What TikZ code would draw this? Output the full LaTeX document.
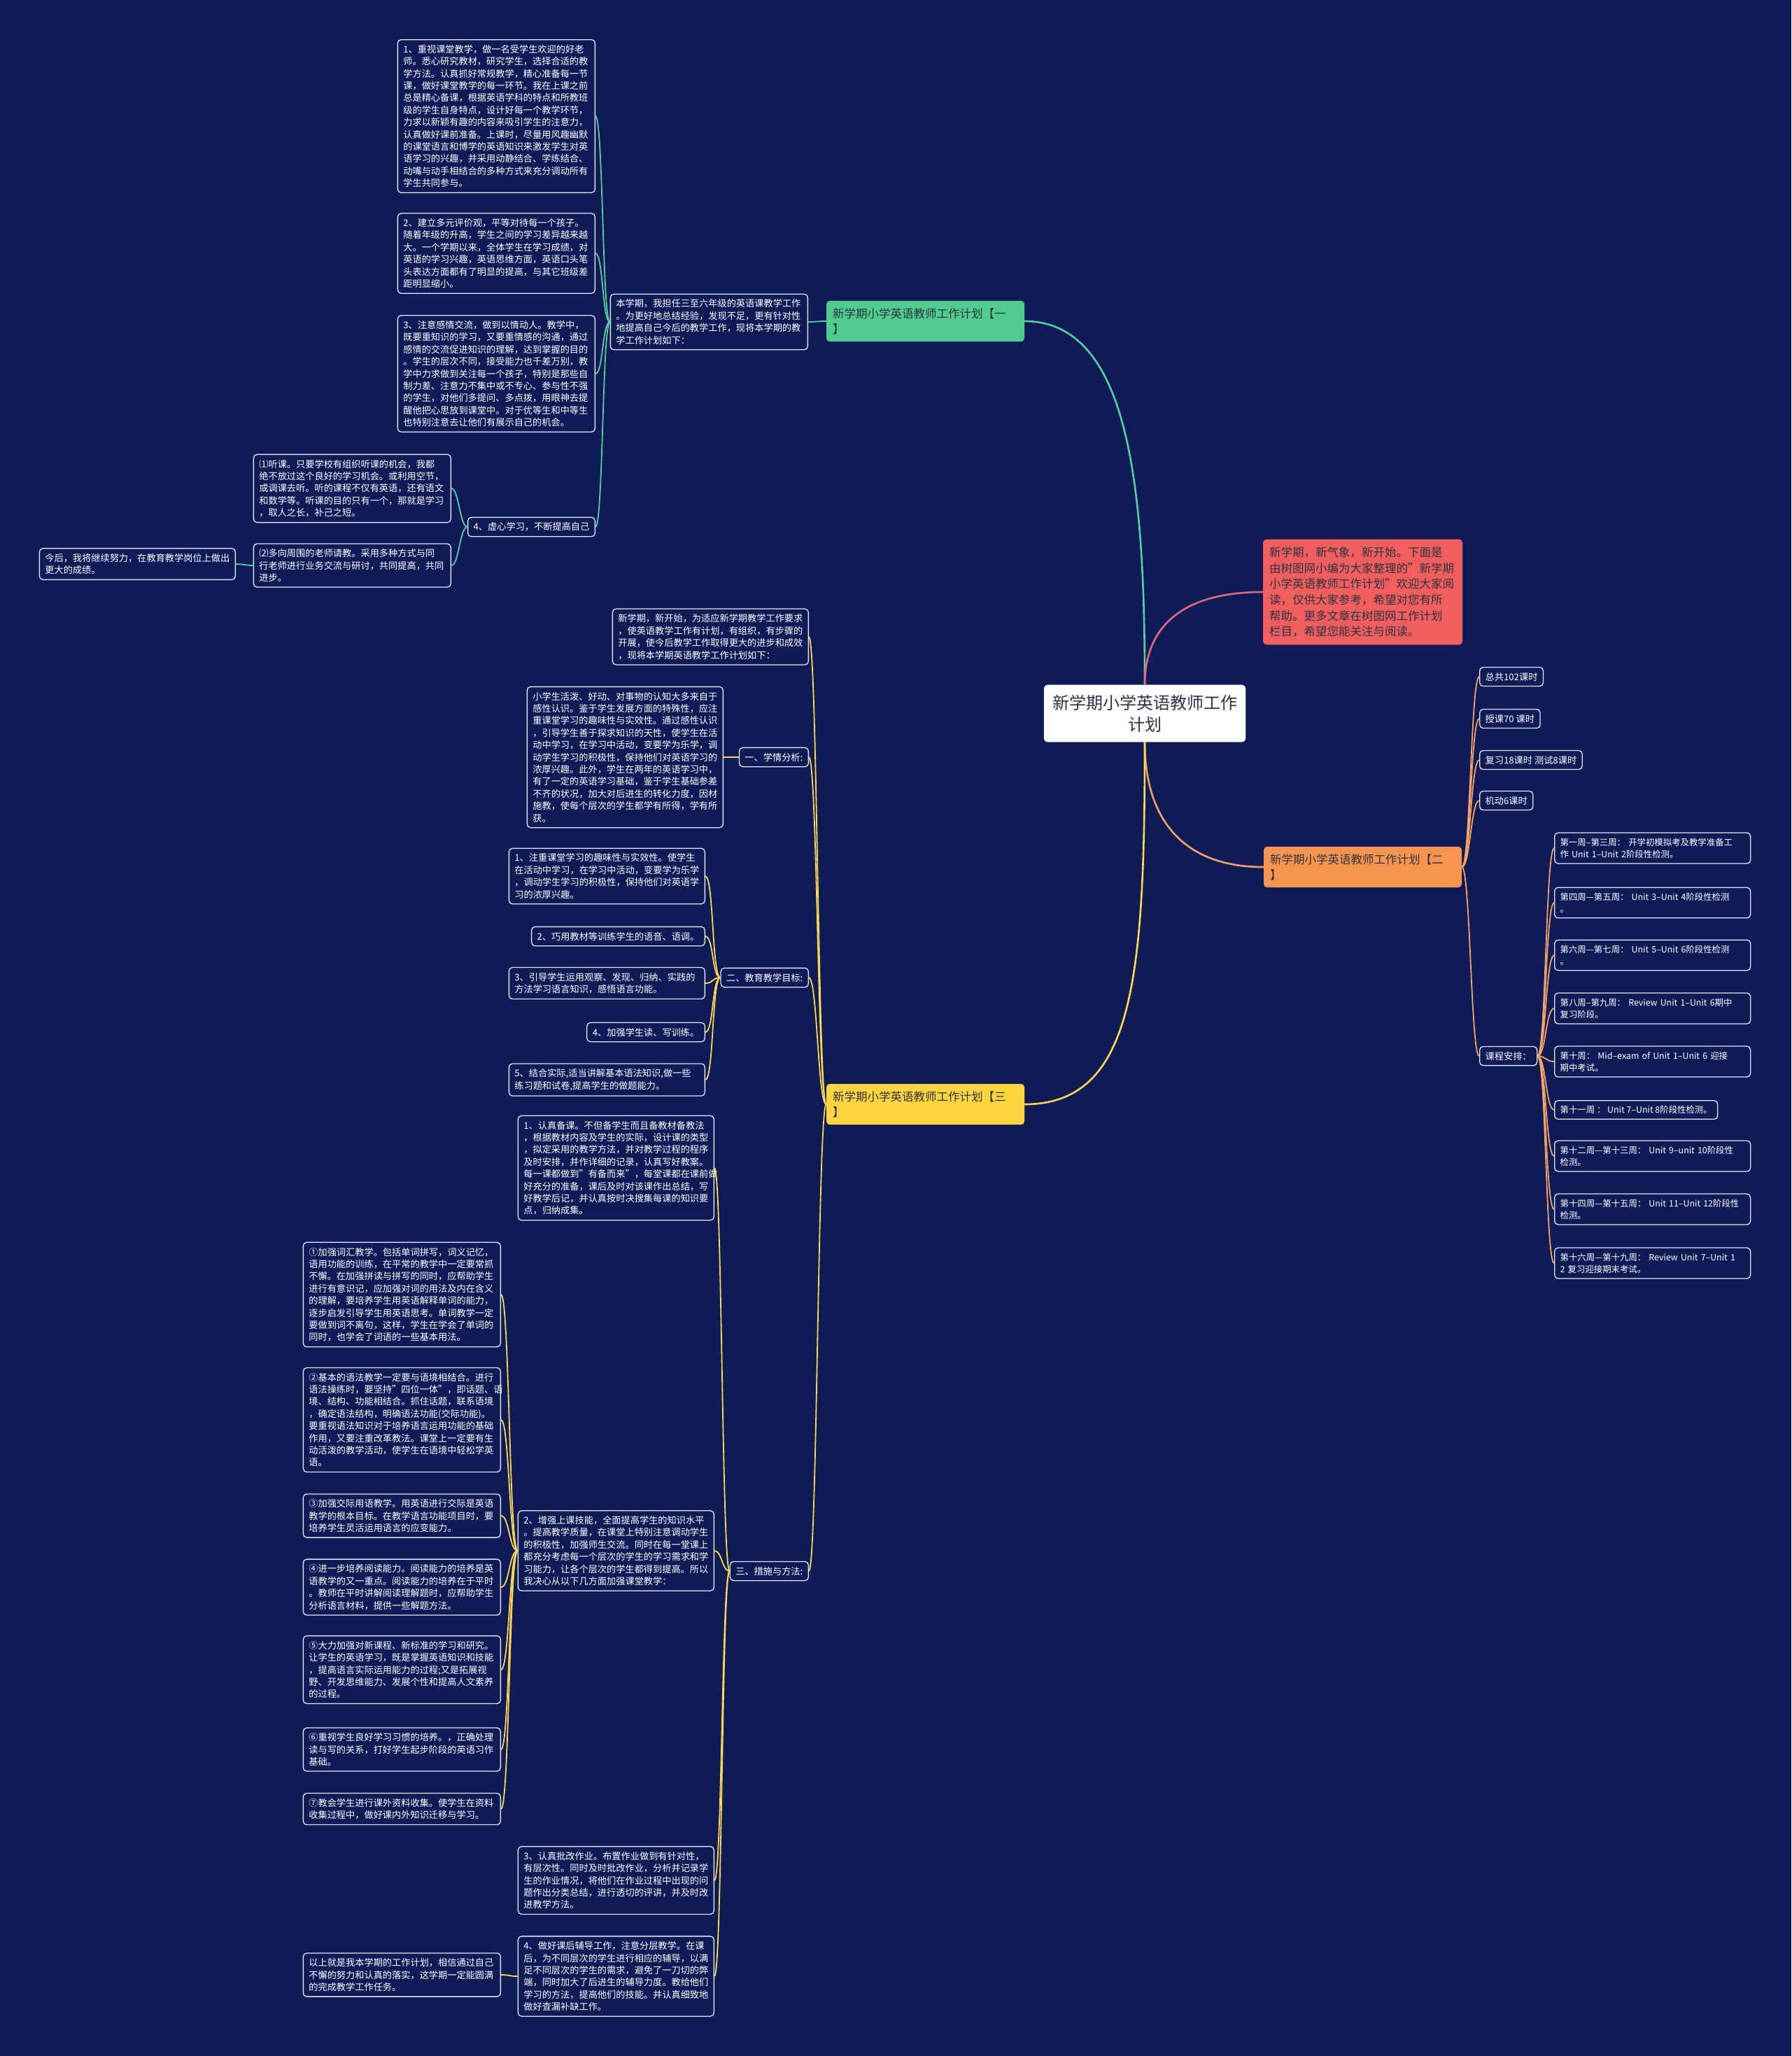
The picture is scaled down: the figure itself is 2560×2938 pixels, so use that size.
\documentclass[tikz,border=0pt]{standalone}
\usepackage{fontspec}
\setmainfont{Noto Sans CJK SC}
\definecolor{bg}{HTML}{0F1B57}
\definecolor{leafline}{HTML}{E2E6F0}
\definecolor{cgreen}{HTML}{4FCB8D}
\definecolor{cred}{HTML}{F25E5E}
\definecolor{corange}{HTML}{F7954E}
\definecolor{cyellow}{HTML}{FFD43E}
\definecolor{lgreen}{HTML}{55CF9E}
\definecolor{lred}{HTML}{E3687A}
\definecolor{lorange}{HTML}{F5A266}
\definecolor{lyellow}{HTML}{FFD84D}
\definecolor{hdrtext}{HTML}{2B3446}
\newcommand{\linkL}[4]{\draw[#1] (#2.west) .. controls ([xshift=-#4pt]#2.west) and ([xshift=#4pt]#3.east) .. (#3.east);}
\newcommand{\linkR}[4]{\draw[#1] (#2.east) .. controls ([xshift=#4pt]#2.east) and ([xshift=-#4pt]#3.west) .. (#3.west);}
\begin{document}
\begin{tikzpicture}[x=1pt,y=1pt,
  leaf/.style={draw=leafline, fill=bg, rounded corners=5pt, line width=1.3pt, text=white,
    font=\fontsize{13.2}{17.4}\selectfont, align=left, inner xsep=8pt, inner ysep=7.5pt},
  week/.style={leaf, font=\fontsize{12.4}{17.4}\selectfont},
  hdr/.style={rounded corners=5pt, font=\fontsize{16.5}{22}\selectfont, align=left, text=hdrtext,
    inner xsep=9pt, inner ysep=10.5pt, text width=265pt},
  ctrbox/.style={rounded corners=5pt, fill=white, draw=white, text=hdrtext, font=\fontsize{24}{31}\selectfont,
    align=center, text width=264pt, inner xsep=12pt, inner ysep=14pt},
  gmain/.style={draw=lgreen, line width=2.6pt},
  rmain/.style={draw=lred, line width=2.6pt},
  omain/.style={draw=lorange, line width=2.6pt},
  ymain/.style={draw=lyellow, line width=2.6pt},
  gl/.style={draw=lgreen, line width=1.8pt},
  ol/.style={draw=lorange, line width=1.8pt},
  yl/.style={draw=lyellow, line width=1.8pt},
]
\fill[bg] (0,0) rectangle (2560,-2938);
\useasboundingbox (0,0) rectangle (2560,-2938);

% center and headers
\node[ctrbox] (ctr) at (1636,-1019.5) {新学期小学英语教师工作\\计划};
\node[hdr, fill=cgreen] (gh) at (1322.5,-459) {新学期小学英语教师工作计划【一\\】};
\node[hdr, fill=cyellow] (yh) at (1322.5,-1578) {新学期小学英语教师工作计划【三\\】};
\node[hdr, fill=corange] (oh) at (1947.5,-1239) {新学期小学英语教师工作计划【二\\】};
\node[hdr, fill=cred, text width=267pt, inner ysep=11pt, font=\fontsize{16.5}{22.6}\selectfont] (rd) at (1947.5,-846) {新学期，新气象，新开始。下面是\\由树图网小编为大家整理的"新学期\\小学英语教师工作计划"欢迎大家阅\\读，仅供大家参考，希望对您有所\\帮助。更多文章在树图网工作计划\\栏目，希望您能关注与阅读。};

% green branch
\node[leaf, text width=266pt, anchor=east] (bx) at (1155,-460) {本学期，我担任三至六年级的英语课教学工作\\。为更好地总结经验，发现不足，更有针对性\\地提高自己今后的教学工作，现将本学期的教\\学工作计划如下：};
\node[leaf, text width=266pt, anchor=east] (b1) at (851,-166) {1、重视课堂教学，做一名受学生欢迎的好老\\师。悉心研究教材，研究学生，选择合适的教\\学方法。认真抓好常规教学，精心准备每一节\\课，做好课堂教学的每一环节。我在上课之前\\总是精心备课，根据英语学科的特点和所教班\\级的学生自身特点，设计好每一个教学环节，\\力求以新颖有趣的内容来吸引学生的注意力，\\认真做好课前准备。上课时，尽量用风趣幽默\\的课堂语言和博学的英语知识来激发学生对英\\语学习的兴趣，并采用动静结合、学练结合、\\动嘴与动手相结合的多种方式来充分调动所有\\学生共同参与。};
\node[leaf, text width=266pt, anchor=east] (b2) at (851,-362) {2、建立多元评价观，平等对待每一个孩子。\\随着年级的升高，学生之间的学习差异越来越\\大。一个学期以来，全体学生在学习成绩，对\\英语的学习兴趣，英语思维方面，英语口头笔\\头表达方面都有了明显的提高，与其它班级差\\距明显缩小。};
\node[leaf, text width=266pt, anchor=east] (b3) at (851,-534) {3、注意感情交流，做到以情动人。教学中，\\既要重知识的学习，又要重情感的沟通，通过\\感情的交流促进知识的理解，达到掌握的目的\\。学生的层次不同，接受能力也千差万别，教\\学中力求做到关注每一个孩子，特别是那些自\\制力差、注意力不集中或不专心、参与性不强\\的学生，对他们多提问、多点拨，用眼神去提\\醒他把心思放到课堂中。对于优等生和中等生\\也特别注意去让他们有展示自己的机会。};
\node[leaf, anchor=east] (b4) at (851,-753) {4、虚心学习，不断提高自己};
\node[leaf, text width=266pt, anchor=east] (p1) at (645,-698) {⑴听课。只要学校有组织听课的机会，我都\\绝不放过这个良好的学习机会。或利用空节，\\或调课去听。听的课程不仅有英语，还有语文\\和数学等。听课的目的只有一个，那就是学习\\，取人之长，补己之短。};
\node[leaf, text width=266pt, anchor=east] (p2) at (645,-808) {⑵多向周围的老师请教。采用多种方式与同\\行老师进行业务交流与研讨，共同提高，共同\\进步。};
\node[leaf, text width=264pt, anchor=east] (jh) at (337,-806) {今后，我将继续努力，在教育教学岗位上做出\\更大的成绩。};

% yellow branch
\node[leaf, text width=264pt, anchor=east] (y0) at (1156,-910) {新学期，新开始，为适应新学期教学工作要求\\，使英语教学工作有计划，有组织，有步骤的\\开展，使今后教学工作取得更大的进步和成效\\，现将本学期英语教学工作计划如下：};
\node[leaf, anchor=east] (s1) at (1156,-1082) {一、学情分析:};
\node[leaf, text width=264pt, anchor=east] (s1a) at (1034,-1082) {小学生活泼、好动、对事物的认知大多来自于\\感性认识。鉴于学生发展方面的特殊性，应注\\重课堂学习的趣味性与实效性。通过感性认识\\，引导学生善于探求知识的天性，使学生在活\\动中学习，在学习中活动，变要学为乐学，调\\动学生学习的积极性，保持他们对英语学习的\\浓厚兴趣。此外，学生在两年的英语学习中，\\有了一定的英语学习基础，鉴于学生基础参差\\不齐的状况，加大对后进生的转化力度，因材\\施教，使每个层次的学生都学有所得，学有所\\获。};
\node[leaf, anchor=east] (s2) at (1156,-1397) {二、教育教学目标:};
\node[leaf, text width=264pt, anchor=east] (g1) at (1008,-1252) {1、注重课堂学习的趣味性与实效性。使学生\\在活动中学习，在学习中活动，变要学为乐学\\，调动学生学习的积极性，保持他们对英语学\\习的浓厚兴趣。};
\node[leaf, anchor=east] (g2) at (1008,-1338) {2、巧用教材等训练学生的语音、语调。};
\node[leaf, text width=264pt, anchor=east] (g3) at (1008,-1405) {3、引导学生运用观察、发现、归纳、实践的\\方法学习语言知识，感悟语言功能。};
\node[leaf, anchor=east] (g4) at (1008,-1475) {4、加强学生读、写训练。};
\node[leaf, text width=264pt, anchor=east] (g5) at (1008,-1543) {5、结合实际,适当讲解基本语法知识,做一些\\练习题和试卷,提高学生的做题能力。};
\node[leaf, anchor=east] (s3) at (1156,-2245) {三、措施与方法:};
\node[leaf, text width=264pt, anchor=east] (m1) at (1021,-1669) {1、认真备课。不但备学生而且备教材备教法\\，根据教材内容及学生的实际，设计课的类型\\，拟定采用的教学方法，并对教学过程的程序\\及时安排，并作详细的记录，认真写好教案。\\每一课都做到"有备而来"，每堂课都在课前做\\好充分的准备，课后及时对该课作出总结，写\\好教学后记，并认真按时决搜集每课的知识要\\点，归纳成集。};
\node[leaf, text width=264pt, anchor=east] (m2) at (1021,-2216) {2、增强上课技能，全面提高学生的知识水平\\。提高教学质量，在课堂上特别注意调动学生\\的积极性，加强师生交流。同时在每一堂课上\\都充分考虑每一个层次的学生的学习需求和学\\习能力，让各个层次的学生都得到提高。所以\\我决心从以下几方面加强课堂教学：};
\node[leaf, text width=266pt, anchor=east] (c1) at (716,-1850) {①加强词汇教学。包括单词拼写，词义记忆，\\语用功能的训练，在平常的教学中一定要常抓\\不懈。在加强拼读与拼写的同时，应帮助学生\\进行有意识记，应加强对词的用法及内在含义\\的理解，要培养学生用英语解释单词的能力，\\逐步启发引导学生用英语思考。单词教学一定\\要做到词不离句，这样，学生在学会了单词的\\同时，也学会了词语的一些基本用法。};
\node[leaf, text width=266pt, anchor=east] (c2) at (716,-2029) {②基本的语法教学一定要与语境相结合。进行\\语法操练时，要坚持"四位一体"，即话题、语\\境、结构、功能相结合。抓住话题，联系语境\\，确定语法结构，明确语法功能(交际功能)。\\要重视语法知识对于培养语言运用功能的基础\\作用，又要注重改革教法。课堂上一定要有生\\动活泼的教学活动，使学生在语境中轻松学英\\语。};
\node[leaf, text width=266pt, anchor=east] (c3) at (716,-2166) {③加强交际用语教学。用英语进行交际是英语\\教学的根本目标。在教学语言功能项目时，要\\培养学生灵活运用语言的应变能力。};
\node[leaf, text width=266pt, anchor=east] (c4) at (716,-2268) {④进一步培养阅读能力。阅读能力的培养是英\\语教学的又一重点。阅读能力的培养在于平时\\。教师在平时讲解阅读理解题时，应帮助学生\\分析语言材料，提供一些解题方法。};
\node[leaf, text width=266pt, anchor=east] (c5) at (716,-2386) {⑤大力加强对新课程、新标准的学习和研究。\\让学生的英语学习，既是掌握英语知识和技能\\，提高语言实际运用能力的过程;又是拓展视\\野、开发思维能力、发展个性和提高人文素养\\的过程。};
\node[leaf, text width=266pt, anchor=east] (c6) at (716,-2500) {⑥重视学生良好学习习惯的培养。，正确处理\\读与写的关系，打好学生起步阶段的英语习作\\基础。};
\node[leaf, text width=266pt, anchor=east] (c7) at (716,-2585) {⑦教会学生进行课外资料收集。使学生在资料\\收集过程中，做好课内外知识迁移与学习。};
\node[leaf, text width=264pt, anchor=east] (m3) at (1021,-2687) {3、认真批改作业。布置作业做到有针对性，\\有层次性。同时及时批改作业，分析并记录学\\生的作业情况，将他们在作业过程中出现的问\\题作出分类总结，进行透切的评讲，并及时改\\进教学方法。};
\node[leaf, text width=264pt, anchor=east] (m4) at (1021,-2824) {4、做好课后辅导工作，注意分层教学。在课\\后，为不同层次的学生进行相应的辅导，以满\\足不同层次的学生的需求，避免了一刀切的弊\\端，同时加大了后进生的辅导力度。教给他们\\学习的方法，提高他们的技能。并认真细致地\\做好查漏补缺工作。};
\node[leaf, text width=266pt, anchor=east] (fin) at (716,-2822) {以上就是我本学期的工作计划，相信通过自己\\不懈的努力和认真的落实，这学期一定能圆满\\的完成教学工作任务。};

% orange branch
\node[leaf, anchor=west] (r1) at (2114,-967) {总共102课时};
\node[leaf, anchor=west] (r2) at (2114,-1027) {授课70 课时};
\node[leaf, anchor=west] (r3) at (2114,-1086) {复习18课时 测试8课时};
\node[leaf, anchor=west] (r4) at (2114,-1144) {机动6课时};
\node[leaf, anchor=west] (r5) at (2114,-1509) {课程安排：};
\node[week, text width=264pt, anchor=west] (w1) at (2221,-1212) {\mbox{第一周–第三周： 开学初模拟考及教学准备工}\\作 Unit 1–Unit 2阶段性检测。};
\node[week, text width=264pt, anchor=west] (w2) at (2221,-1290) {\mbox{第四周—第五周： Unit 3–Unit 4阶段性检测}\\。};
\node[week, text width=264pt, anchor=west] (w3) at (2221,-1365) {\mbox{第六周—第七周： Unit 5–Unit 6阶段性检测}\\。};
\node[week, text width=264pt, anchor=west] (w4) at (2221,-1441) {\mbox{第八周–第九周： Review Unit 1–Unit 6期中}\\复习阶段。};
\node[week, text width=264pt, anchor=west] (w5) at (2221,-1517) {\mbox{第十周：  Mid–exam of Unit 1–Unit 6 迎接}\\期中考试。};
\node[week, anchor=west] (w6) at (2221,-1586) {第十一周 ： Unit 7–Unit 8阶段性检测。};
\node[week, text width=264pt, anchor=west] (w7) at (2221,-1652) {\mbox{第十二周—第十三周： Unit 9–unit 10阶段性}\\检测。};
\node[week, text width=264pt, anchor=west] (w8) at (2221,-1728) {\mbox{第十四周—第十五周： Unit 11–Unit 12阶段性}\\检测。};
\node[week, text width=264pt, anchor=west] (w9) at (2221,-1805) {\mbox{第十六周—第十九周： Review Unit 7–Unit 1}\\2 复习迎接期末考试。};

% main connectors
\draw[gmain] (gh.east) .. controls (1615,-459) and (1636,-700) .. (ctr.north);
\draw[rmain] (ctr.north) .. controls (1636,-895) and (1690,-846) .. (rd.west);
\draw[omain] (ctr.south) .. controls (1636,-1170) and (1690,-1239) .. (oh.west);
\draw[ymain] (ctr.south) .. controls (1636,-1400) and (1620,-1578) .. (yh.east);

% green links
\linkL{gl}{gh}{bx}{12}
\foreach \c in {b1,b2,b3,b4} {\linkL{gl}{bx}{\c}{11}}
\foreach \c in {p1,p2} {\linkL{gl}{b4}{\c}{11}}
\linkL{gl}{p2}{jh}{12}

% yellow links
\foreach \c in {y0,s1,s2,s3} {\linkL{yl}{yh}{\c}{12}}
\linkL{yl}{s1}{s1a}{12}
\foreach \c in {g1,g2,g3,g4,g5} {\linkL{yl}{s2}{\c}{12}}
\foreach \c in {m1,m2,m3,m4} {\linkL{yl}{s3}{\c}{11}}
\foreach \c in {c1,c2,c3,c4,c5,c6,c7} {\linkL{yl}{m2}{\c}{12}}
\linkL{yl}{m4}{fin}{12}

% orange links
\foreach \c in {r1,r2,r3,r4,r5} {\linkR{ol}{oh}{\c}{12}}
\foreach \c in {w1,w2,w3,w4,w5,w6,w7,w8,w9} {\linkR{ol}{r5}{\c}{12}}
\end{tikzpicture}
\end{document}
